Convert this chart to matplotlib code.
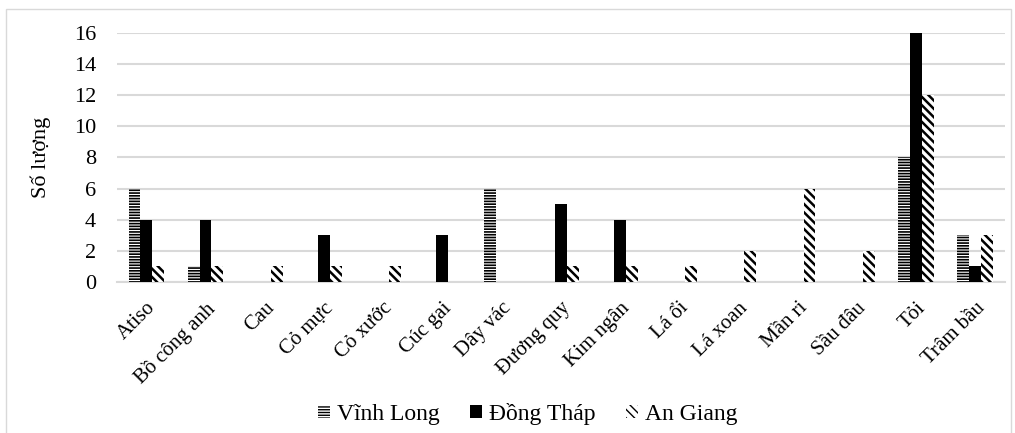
import matplotlib
matplotlib.use("Agg")
import matplotlib.pyplot as plt
import numpy as np
from matplotlib.patches import Rectangle

categories = ["Atiso", "Bồ công anh", "Cau", "Cỏ mực", "Cỏ xước", "Cúc gai", "Dây vác",
              "Đương quy", "Kim ngân", "Lá ổi", "Lá xoan", "Mần ri", "Sầu đâu", "Tỏi", "Trâm bầu"]
vinh_long = [6, 1, 0, 0, 0, 0, 6, 0, 0, 0, 0, 0, 0, 8, 3]
dong_thap = [4, 4, 0, 3, 0, 3, 0, 5, 4, 0, 0, 0, 0, 16, 1]
an_giang = [1, 1, 1, 1, 1, 0, 0, 1, 1, 1, 2, 6, 2, 12, 3]
series_names = ["Vĩnh Long", "Đồng Tháp", "An Giang"]
yticks = [0, 2, 4, 6, 8, 10, 12, 14, 16]

plt.rcParams['font.family'] = ['Liberation Serif', 'DejaVu Serif']

fig = plt.figure(figsize=(10.15, 4.33), dpi=100)
ax = fig.add_axes([0.115, 0.349, 0.875, 0.575])

x = np.arange(len(categories))
w = 0.2
with plt.rc_context({'hatch.linewidth': 1.2}):
    ax.bar(x - w, vinh_long, w, facecolor="white", edgecolor="black", linewidth=0,
           hatch="------", label=series_names[0], zorder=3)
ax.bar(x, dong_thap, w, color="black", linewidth=0, label=series_names[1], zorder=3)
with plt.rc_context({'hatch.linewidth': 1.8}):
    ax.bar(x + w, an_giang, w, facecolor="white", edgecolor="black", linewidth=0,
           hatch="\\\\\\\\", label=series_names[2], zorder=3)

ax.set_xlim(-0.5, len(categories) - 0.5)
ax.set_ylim(0, 16)
ax.set_yticks(yticks)
ax.yaxis.grid(True, color="#d9d9d9", linewidth=1.5)
ax.set_axisbelow(True)
for s in ["top", "right", "left"]:
    ax.spines[s].set_visible(False)
ax.spines["bottom"].set_color("#d9d9d9")
ax.spines["bottom"].set_linewidth(1.5)
ax.tick_params(length=0, labelsize=16)
ax.tick_params(axis="y", pad=15)
ax.tick_params(axis="x", pad=12)
ax.set_xticks(x)
ax.set_xticklabels(categories, rotation=45, ha="right", rotation_mode="anchor", fontsize=15)
ax.set_ylabel("Số lượng", fontsize=16, labelpad=16)

ax.legend(loc="center", bbox_to_anchor=(0.463, -0.53), ncol=3, frameon=False,
          fontsize=17, handlelength=0.5, handleheight=0.5, handletextpad=0.3,
          columnspacing=1.3)

fig.patches.append(Rectangle((0.006, -0.01), 0.99, 0.99, transform=fig.transFigure,
                             fill=False, edgecolor="#d9d9d9", linewidth=1))

fig.savefig("out.png", dpi=100)
